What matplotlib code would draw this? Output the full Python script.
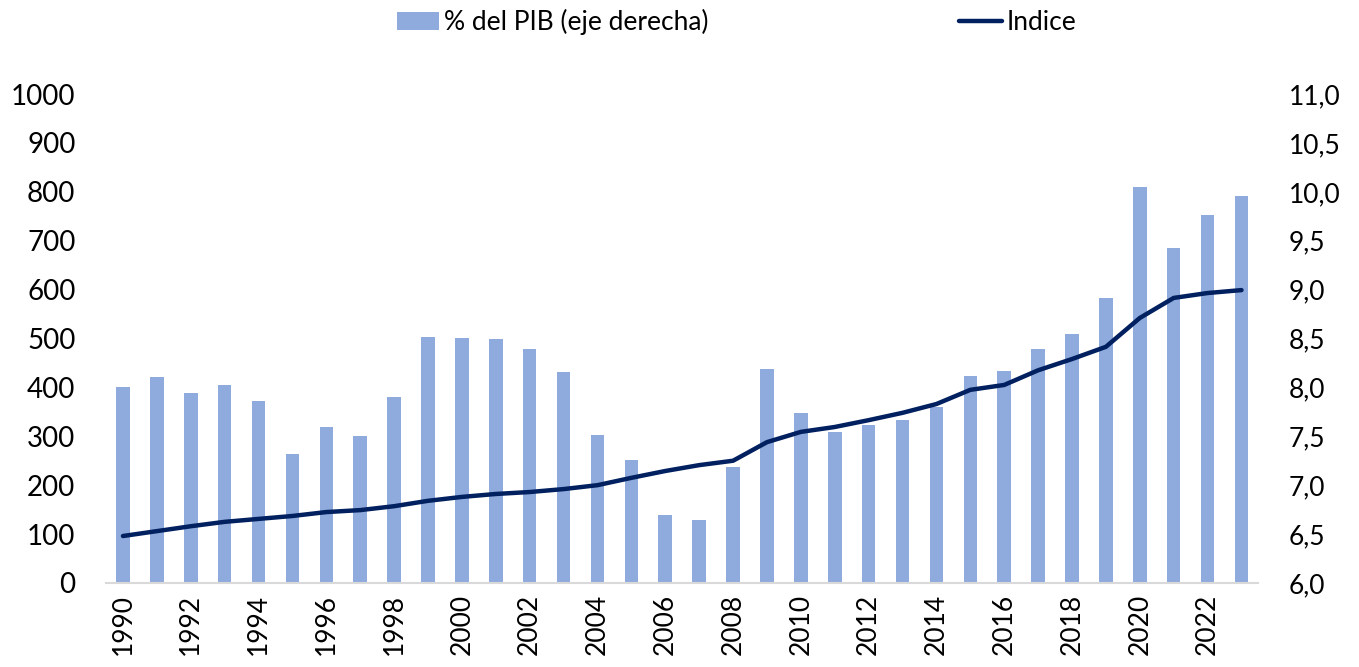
import numpy as np
import matplotlib.pyplot as plt

plt.rcParams['font.family'] = ['Lato', 'DejaVu Sans']

years = list(range(1990, 2024))

# % del PIB (eje derecha)
pct_pib = [8.00, 8.11, 7.94, 8.02, 7.86, 7.32, 7.60, 7.50, 7.90, 8.52,
           8.51, 8.50, 8.39, 8.16, 7.51, 7.26, 6.70, 6.64, 7.19, 8.19,
           7.74, 7.54, 7.62, 7.67, 7.80, 8.12, 8.17, 8.39, 8.55, 8.91,
           10.05, 9.43, 9.76, 9.96]

# Indice (eje izquierda)
indice = [96, 106, 116, 125, 131, 137, 145, 149, 157, 168,
          176, 182, 186, 192, 200, 215, 229, 241, 250, 288,
          309, 319, 333, 348, 366, 395, 405, 435, 458, 483,
          542, 583, 593, 599]

bar_color = '#8FAADC'
line_color = '#002060'

fig = plt.figure(figsize=(13.59, 6.67), dpi=100)
ax = fig.add_axes([0.078, 0.126, 0.848, 0.733])
ax2 = ax.twinx()

x = np.arange(len(years))
b = ax2.bar(x, pct_pib, width=0.4, color=bar_color, label='% del PIB (eje derecha)')
ln, = ax.plot(x, indice, color=line_color, lw=3.2, solid_capstyle='round', label='Indice')

ax.set_zorder(ax2.get_zorder() + 1)
ax.patch.set_visible(False)

ax.set_ylim(0, 1000)
ax.set_yticks(range(0, 1001, 100))
ax2.set_ylim(6, 11)
ax2.set_yticks(np.arange(6, 11.01, 0.5))
ax2.set_yticklabels([f'{v:.1f}'.replace('.', ',') for v in np.arange(6, 11.01, 0.5)])
ax.set_xlim(-0.5, len(years) - 0.5)
ax.set_xticks(x[::2])
ax.set_xticklabels([str(y) for y in years[::2]], rotation=90)

for a in (ax, ax2):
    for s in ('top', 'left', 'right', 'bottom'):
        a.spines[s].set_visible(False)
    a.tick_params(length=0, labelsize=19, colors='#000000')
ax.spines['bottom'].set_visible(True)
ax.spines['bottom'].set_color('#D9D9D9')
ax.spines['bottom'].set_linewidth(1.5)
ax.tick_params(axis='y', pad=22, labelsize=20)
ax2.tick_params(axis='y', pad=22)
ax.tick_params(axis='x', pad=8)

fig.legend(handles=[b, ln], loc='center', bbox_to_anchor=(0.542, 0.967), ncol=2,
           frameon=False, fontsize=19, handlelength=1.6, handletextpad=0.2,
           columnspacing=9.5)

fig.savefig('out.png', dpi=100)
